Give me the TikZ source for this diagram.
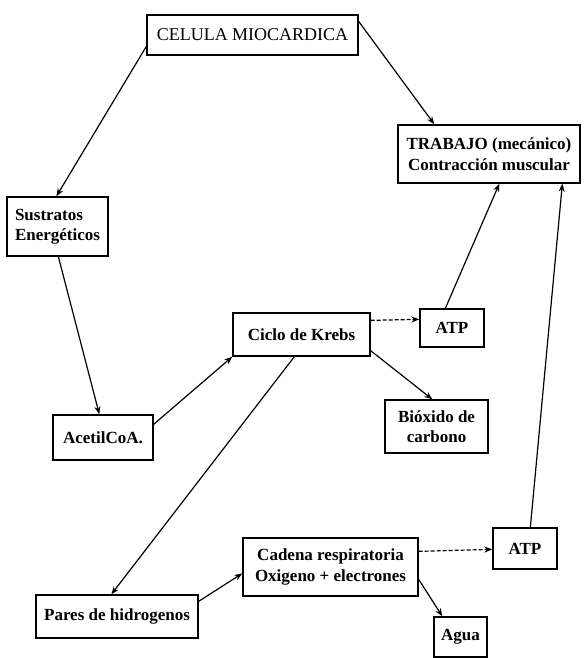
\documentclass[tikz,border=0pt]{standalone}
\usepackage{fontspec}
\setmainfont{Liberation Serif}
\usetikzlibrary{arrows.meta,calc}

\begin{document}
\begin{tikzpicture}[x=1pt,y=-1pt,
  box/.style={draw,line width=1.3pt,inner sep=0pt,align=center,
    font=\fontsize{17}{20.5}\selectfont\bfseries},
  link/.style={line width=1.2pt,-{Stealth[length=8pt,width=6pt]}},
  dlink/.style={link,dash pattern=on 4pt off 2pt}]
\useasboundingbox (0,0) rectangle (584,658);

% boxes
\node[box,minimum width=211,minimum height=40,
  font=\fontsize{18}{21}\selectfont] (cel) at (252.5,35) {CELULA MIOCARDICA};
\node[box,minimum width=182,minimum height=58] (trab) at (489,154)
  {TRABAJO (mecánico)\\Contracción muscular};
\node[box,minimum width=101,minimum height=59,align=left] (sus) at (57.5,226.5)
  {Sustratos\\Energéticos};
\node[box,minimum width=137,minimum height=43] (kreb) at (301.5,334.5) {Ciclo de Krebs};
\node[box,minimum width=64,minimum height=38] (atpa) at (452,328) {ATP};
\node[box,minimum width=103,minimum height=53] (biox) at (436.5,426.5)
  {Bióxido de\\carbono};
\node[box,minimum width=100,minimum height=45] (acet) at (103,437.5) {AcetilCoA.};
\node[box,minimum width=162,minimum height=43] (pares) at (117,616.5)
  {Pares de hidrogenos};
\node[box,minimum width=175,minimum height=58] (cad) at (330.5,567)
  {Cadena respiratoria\\Oxigeno + electrones};
\node[box,minimum width=64,minimum height=41] (atpb) at (525,548.5) {ATP};
\node[box,minimum width=53,minimum height=40] (agua) at (460.5,637) {Agua};

% connectors
\draw[link] ($(cel.north west)+(0,32)$) -- ($(sus.north west)+(50,0)$);
\draw[link] ($(cel.north east)+(0,7)$) -- ($(trab.north west)+(37,0)$);
\draw[link] ($(sus.south west)+(52,0)$) -- ($(acet.north west)+(47,0)$);
\draw[link] ($(acet.north east)+(0,10)$) -- (kreb.south west);
\draw[dlink] ($(kreb.north east)+(0,8)$) -- ($(atpa.north west)+(0,11)$);
\draw[link] ($(atpa.north west)+(26,0)$) -- ($(trab.south west)+(102,0)$);
\draw[link] ($(kreb.south east)+(0,-6)$) -- ($(biox.north west)+(48,0)$);
\draw[link] ($(kreb.south west)+(62,0)$) -- ($(pares.north west)+(76,0)$);
\draw[link] ($(pares.north east)+(0,7)$) -- ($(cad.north west)+(0,36)$);
\draw[dlink] ($(cad.north east)+(0,14)$) -- ($(atpb.north west)+(0,22)$);
\draw[link] ($(cad.north east)+(0,42)$) -- ($(agua.north west)+(9,0)$);
\draw[link] ($(atpb.north west)+(38,0)$) -- ($(trab.south west)+(165,0)$);
\end{tikzpicture}
\end{document}
